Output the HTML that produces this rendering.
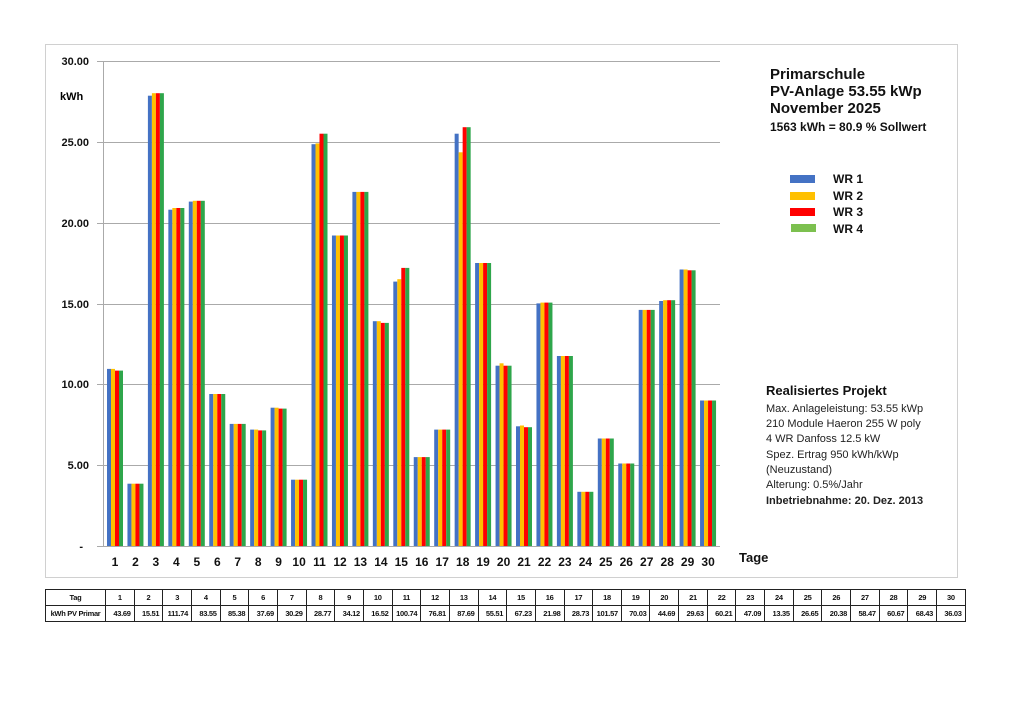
<!DOCTYPE html>
<html><head><meta charset="utf-8"><style>
body{margin:0;background:#fff;width:1024px;height:724px;overflow:hidden;font-family:"Liberation Sans",sans-serif}
svg{position:absolute;left:0;top:0}
table{position:absolute;left:45px;top:589px;border-collapse:collapse;table-layout:fixed;width:920px}
td{border:1px solid #222;height:15px;padding:0;font-size:7.5px;font-weight:bold;text-align:center;color:#111;letter-spacing:-0.3px}
td.v{text-align:right;padding-right:3px}
</style></head><body>
<svg width="1024" height="724" xmlns="http://www.w3.org/2000/svg" font-family="Liberation Sans, sans-serif">
<rect x="45.5" y="44.5" width="912" height="533" fill="#fff" stroke="#d0d0d0"/>
<g stroke="#aaa" stroke-width="1">
<line x1="97" x2="720" y1="61.5" y2="61.5"/><line x1="97" x2="720" y1="142.5" y2="142.5"/>
<line x1="97" x2="720" y1="223.5" y2="223.5"/><line x1="97" x2="720" y1="304.5" y2="304.5"/>
<line x1="97" x2="720" y1="384.5" y2="384.5"/><line x1="97" x2="720" y1="465.5" y2="465.5"/>
<line x1="97" x2="720" y1="546.5" y2="546.5"/><line x1="103.5" x2="103.5" y1="61" y2="546"/>
</g>
<g font-size="11" font-weight="bold" text-anchor="end" fill="#111">
<text x="89" y="65">30.00</text><text x="89" y="146">25.00</text><text x="89" y="227">20.00</text>
<text x="89" y="308">15.00</text><text x="89" y="388">10.00</text><text x="89" y="469">5.00</text><text x="83" y="550">-</text>
</g>
<text x="60" y="100" font-size="11" font-weight="bold">kWh</text>
<defs><style>.a{fill:#4472C4}.b{fill:#FFC000}.c{fill:#FF0000}.d{fill:#2EA64B}</style></defs>
<g transform="translate(0,546) scale(1,-1)">
<g transform="translate(107)"><rect class="a" x="0" width="4" height="177.1"/><rect class="b" x="4" width="4" height="177.1"/><rect class="c" x="8" width="4" height="175.4"/><rect class="d" x="12" width="4" height="175.4"/></g>
<g transform="translate(127.45)"><rect class="a" x="0" width="4" height="62.3"/><rect class="b" x="4" width="4" height="62.3"/><rect class="c" x="8" width="4" height="62.3"/><rect class="d" x="12" width="4" height="62.3"/></g>
<g transform="translate(147.9)"><rect class="a" x="0" width="4" height="450.3"/><rect class="b" x="4" width="4" height="452.8"/><rect class="c" x="8" width="4" height="452.8"/><rect class="d" x="12" width="4" height="452.8"/></g>
<g transform="translate(168.35)"><rect class="a" x="0" width="4" height="336.3"/><rect class="b" x="4" width="4" height="338"/><rect class="c" x="8" width="4" height="338"/><rect class="d" x="12" width="4" height="338"/></g>
<g transform="translate(188.8)"><rect class="a" x="0" width="4" height="344.4"/><rect class="b" x="4" width="4" height="345.2"/><rect class="c" x="8" width="4" height="345.2"/><rect class="d" x="12" width="4" height="345.2"/></g>
<g transform="translate(209.25)"><rect class="a" x="0" width="4" height="152"/><rect class="b" x="4" width="4" height="152"/><rect class="c" x="8" width="4" height="152"/><rect class="d" x="12" width="4" height="152"/></g>
<g transform="translate(229.7)"><rect class="a" x="0" width="4" height="122.1"/><rect class="b" x="4" width="4" height="122.1"/><rect class="c" x="8" width="4" height="122.1"/><rect class="d" x="12" width="4" height="122.1"/></g>
<g transform="translate(250.15)"><rect class="a" x="0" width="4" height="116.4"/><rect class="b" x="4" width="4" height="116.4"/><rect class="c" x="8" width="4" height="115.6"/><rect class="d" x="12" width="4" height="115.6"/></g>
<g transform="translate(270.6)"><rect class="a" x="0" width="4" height="138.3"/><rect class="b" x="4" width="4" height="138.3"/><rect class="c" x="8" width="4" height="137.4"/><rect class="d" x="12" width="4" height="137.4"/></g>
<g transform="translate(291.05)"><rect class="a" x="0" width="4" height="66.3"/><rect class="b" x="4" width="4" height="66.3"/><rect class="c" x="8" width="4" height="66.3"/><rect class="d" x="12" width="4" height="66.3"/></g>
<g transform="translate(311.5)"><rect class="a" x="0" width="4" height="401.8"/><rect class="b" x="4" width="4" height="402.6"/><rect class="c" x="8" width="4" height="412.3"/><rect class="d" x="12" width="4" height="412.3"/></g>
<g transform="translate(331.95)"><rect class="a" x="0" width="4" height="310.5"/><rect class="b" x="4" width="4" height="310.5"/><rect class="c" x="8" width="4" height="310.5"/><rect class="d" x="12" width="4" height="310.5"/></g>
<g transform="translate(352.4)"><rect class="a" x="0" width="4" height="354.1"/><rect class="b" x="4" width="4" height="354.1"/><rect class="c" x="8" width="4" height="354.1"/><rect class="d" x="12" width="4" height="354.1"/></g>
<g transform="translate(372.85)"><rect class="a" x="0" width="4" height="224.8"/><rect class="b" x="4" width="4" height="224.8"/><rect class="c" x="8" width="4" height="223.1"/><rect class="d" x="12" width="4" height="223.1"/></g>
<g transform="translate(393.3)"><rect class="a" x="0" width="4" height="264.4"/><rect class="b" x="4" width="4" height="266.8"/><rect class="c" x="8" width="4" height="278.1"/><rect class="d" x="12" width="4" height="278.1"/></g>
<g transform="translate(413.75)"><rect class="a" x="0" width="4" height="88.9"/><rect class="b" x="4" width="4" height="88.9"/><rect class="c" x="8" width="4" height="88.9"/><rect class="d" x="12" width="4" height="88.9"/></g>
<g transform="translate(434.2)"><rect class="a" x="0" width="4" height="116.4"/><rect class="b" x="4" width="4" height="116.4"/><rect class="c" x="8" width="4" height="116.4"/><rect class="d" x="12" width="4" height="116.4"/></g>
<g transform="translate(454.65)"><rect class="a" x="0" width="4" height="412.3"/><rect class="b" x="4" width="4" height="393.7"/><rect class="c" x="8" width="4" height="418.8"/><rect class="d" x="12" width="4" height="418.8"/></g>
<g transform="translate(475.1)"><rect class="a" x="0" width="4" height="283"/><rect class="b" x="4" width="4" height="283"/><rect class="c" x="8" width="4" height="283"/><rect class="d" x="12" width="4" height="283"/></g>
<g transform="translate(495.55)"><rect class="a" x="0" width="4" height="180.3"/><rect class="b" x="4" width="4" height="182.7"/><rect class="c" x="8" width="4" height="180.3"/><rect class="d" x="12" width="4" height="180.3"/></g>
<g transform="translate(516)"><rect class="a" x="0" width="4" height="119.7"/><rect class="b" x="4" width="4" height="120.5"/><rect class="c" x="8" width="4" height="118.8"/><rect class="d" x="12" width="4" height="118.8"/></g>
<g transform="translate(536.45)"><rect class="a" x="0" width="4" height="242.6"/><rect class="b" x="4" width="4" height="243.4"/><rect class="c" x="8" width="4" height="243.4"/><rect class="d" x="12" width="4" height="243.4"/></g>
<g transform="translate(556.9)"><rect class="a" x="0" width="4" height="190"/><rect class="b" x="4" width="4" height="190"/><rect class="c" x="8" width="4" height="190"/><rect class="d" x="12" width="4" height="190"/></g>
<g transform="translate(577.35)"><rect class="a" x="0" width="4" height="54.2"/><rect class="b" x="4" width="4" height="54.2"/><rect class="c" x="8" width="4" height="54.2"/><rect class="d" x="12" width="4" height="54.2"/></g>
<g transform="translate(597.8)"><rect class="a" x="0" width="4" height="107.5"/><rect class="b" x="4" width="4" height="107.5"/><rect class="c" x="8" width="4" height="107.5"/><rect class="d" x="12" width="4" height="107.5"/></g>
<g transform="translate(618.25)"><rect class="a" x="0" width="4" height="82.5"/><rect class="b" x="4" width="4" height="82.5"/><rect class="c" x="8" width="4" height="82.5"/><rect class="d" x="12" width="4" height="82.5"/></g>
<g transform="translate(638.7)"><rect class="a" x="0" width="4" height="236.1"/><rect class="b" x="4" width="4" height="236.1"/><rect class="c" x="8" width="4" height="236.1"/><rect class="d" x="12" width="4" height="236.1"/></g>
<g transform="translate(659.15)"><rect class="a" x="0" width="4" height="245"/><rect class="b" x="4" width="4" height="245.8"/><rect class="c" x="8" width="4" height="245.8"/><rect class="d" x="12" width="4" height="245.8"/></g>
<g transform="translate(679.6)"><rect class="a" x="0" width="4" height="276.5"/><rect class="b" x="4" width="4" height="276.5"/><rect class="c" x="8" width="4" height="275.7"/><rect class="d" x="12" width="4" height="275.7"/></g>
<g transform="translate(700.05)"><rect class="a" x="0" width="4" height="145.5"/><rect class="b" x="4" width="4" height="145.5"/><rect class="c" x="8" width="4" height="145.5"/><rect class="d" x="12" width="4" height="145.5"/></g>
</g>
<g font-size="12" font-weight="bold" text-anchor="middle" fill="#111">
<text x="115" y="566">1</text><text x="135.5" y="566">2</text><text x="155.9" y="566">3</text><text x="176.4" y="566">4</text><text x="196.8" y="566">5</text><text x="217.3" y="566">6</text><text x="237.7" y="566">7</text><text x="258.2" y="566">8</text><text x="278.6" y="566">9</text><text x="299.1" y="566">10</text><text x="319.5" y="566">11</text><text x="340" y="566">12</text><text x="360.4" y="566">13</text><text x="380.9" y="566">14</text><text x="401.3" y="566">15</text><text x="421.8" y="566">16</text><text x="442.2" y="566">17</text><text x="462.7" y="566">18</text><text x="483.1" y="566">19</text><text x="503.6" y="566">20</text><text x="524" y="566">21</text><text x="544.5" y="566">22</text><text x="564.9" y="566">23</text><text x="585.4" y="566">24</text><text x="605.8" y="566">25</text><text x="626.3" y="566">26</text><text x="646.7" y="566">27</text><text x="667.2" y="566">28</text><text x="687.6" y="566">29</text><text x="708.1" y="566">30</text>
</g>
<text x="739" y="562" font-size="13" font-weight="bold" fill="#111">Tage</text>
<g font-weight="bold" fill="#111">
<text x="770" y="79" font-size="15">Primarschule</text>
<text x="770" y="96" font-size="15">PV-Anlage 53.55 kWp</text>
<text x="770" y="113" font-size="15">November 2025</text>
<text x="770" y="131" font-size="12">1563 kWh = 80.9 % Sollwert</text>
</g>
<rect x="790" y="175" width="25" height="8" fill="#4472C4"/>
<rect x="790" y="192" width="25" height="8" fill="#FFC000"/>
<rect x="790" y="208" width="25" height="8" fill="#FF0000"/>
<rect x="791" y="224" width="25" height="8" fill="#7CC04F"/>
<g font-size="12" font-weight="bold" fill="#111">
<text x="833" y="183">WR 1</text><text x="833" y="200">WR 2</text><text x="833" y="216">WR 3</text><text x="833" y="233">WR 4</text>
</g>
<text x="766" y="395" font-size="13" font-weight="bold" fill="#111">Realisiertes Projekt</text>
<g font-size="11" fill="#222">
<text x="766" y="412">Max. Anlageleistung: 53.55 kWp</text>
<text x="766" y="427">210 Module Haeron 255 W poly</text>
<text x="766" y="442">4 WR Danfoss 12.5 kW</text>
<text x="766" y="458">Spez. Ertrag 950 kWh/kWp</text>
<text x="766" y="473">(Neuzustand)</text>
<text x="766" y="488">Alterung: 0.5%/Jahr</text>
<text x="766" y="504" font-weight="bold">Inbetriebnahme: 20. Dez. 2013</text>
</g>
</svg>
<table>
<colgroup><col style="width:60px"><col span="30" style="width:28.67px"></colgroup>
<tr><td>Tag</td><td>1</td><td>2</td><td>3</td><td>4</td><td>5</td><td>6</td><td>7</td><td>8</td><td>9</td><td>10</td><td>11</td><td>12</td><td>13</td><td>14</td><td>15</td><td>16</td><td>17</td><td>18</td><td>19</td><td>20</td><td>21</td><td>22</td><td>23</td><td>24</td><td>25</td><td>26</td><td>27</td><td>28</td><td>29</td><td>30</td></tr>
<tr><td>kWh PV Primar</td><td class="v">43.69</td><td class="v">15.51</td><td class="v">111.74</td><td class="v">83.55</td><td class="v">85.38</td><td class="v">37.69</td><td class="v">30.29</td><td class="v">28.77</td><td class="v">34.12</td><td class="v">16.52</td><td class="v">100.74</td><td class="v">76.81</td><td class="v">87.69</td><td class="v">55.51</td><td class="v">67.23</td><td class="v">21.98</td><td class="v">28.73</td><td class="v">101.57</td><td class="v">70.03</td><td class="v">44.69</td><td class="v">29.63</td><td class="v">60.21</td><td class="v">47.09</td><td class="v">13.35</td><td class="v">26.65</td><td class="v">20.38</td><td class="v">58.47</td><td class="v">60.67</td><td class="v">68.43</td><td class="v">36.03</td></tr>
</table>
</body></html>
